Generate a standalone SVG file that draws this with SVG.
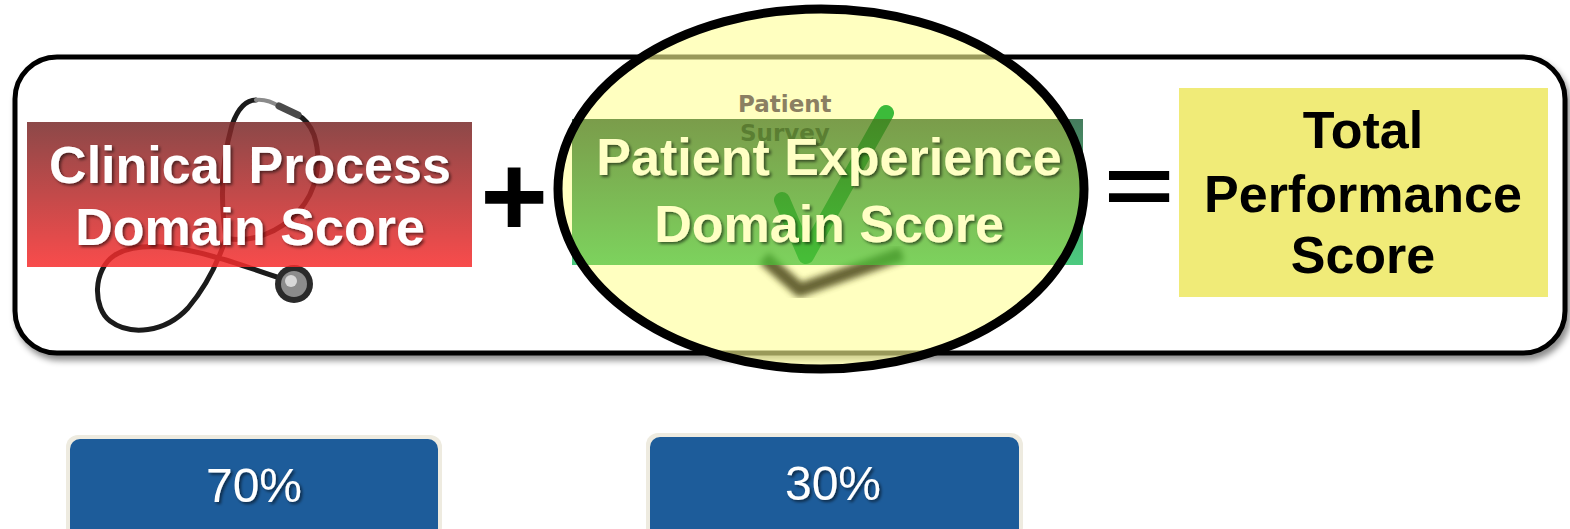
<svg xmlns="http://www.w3.org/2000/svg" width="1570" height="529" viewBox="0 0 1570 529">
  <defs>
    <style>
      .title { font-family: "Liberation Sans", Arial, sans-serif; font-weight: bold; font-size: 52px; text-anchor: middle; }
      .pct { font-family: "Liberation Sans", Arial, sans-serif; font-size: 48px; fill: #ffffff; text-anchor: middle; }
      .op { font-family: "Liberation Sans", Arial, sans-serif; font-weight: bold; fill: #000000; text-anchor: middle; }
      .survey { font-family: "DejaVu Sans", sans-serif; font-weight: bold; font-size: 23px; fill: #8b7f62; }
      .tube { fill: none; stroke: #1b1b1b; stroke-width: 5; stroke-linecap: round; stroke-linejoin: round; }
    </style>
    <linearGradient id="redGrad" x1="0" y1="0" x2="0" y2="1">
      <stop offset="0" stop-color="#782828"/>
      <stop offset="1" stop-color="#f72c2c"/>
    </linearGradient>
    <linearGradient id="tealGrad" x1="0" y1="0" x2="0" y2="1">
      <stop offset="0" stop-color="#467c5e"/>
      <stop offset="1" stop-color="#4ccb80"/>
    </linearGradient>
    <linearGradient id="greenGrad" x1="0" y1="0" x2="0" y2="1">
      <stop offset="0" stop-color="#47761d"/>
      <stop offset="1" stop-color="#4ac137"/>
    </linearGradient>
    <filter id="boxShadow" x="-5%" y="-10%" width="110%" height="125%">
      <feDropShadow dx="3" dy="5" stdDeviation="3" flood-color="#000000" flood-opacity="0.45"/>
    </filter>
    <filter id="textShadow" x="-5%" y="-20%" width="110%" height="140%">
      <feDropShadow dx="2" dy="2" stdDeviation="1.5" flood-color="#000000" flood-opacity="0.55"/>
    </filter>
    <filter id="soft" x="-20%" y="-20%" width="140%" height="140%">
      <feGaussianBlur stdDeviation="3"/>
    </filter>
    <clipPath id="ovalClip">
      <ellipse cx="821" cy="189" rx="263" ry="180"/>
    </clipPath>
    <mask id="outsideOval">
      <rect x="0" y="0" width="1570" height="529" fill="#ffffff"/>
      <ellipse cx="821" cy="189" rx="263" ry="180" fill="#000000"/>
    </mask>
  </defs>

  <rect width="1570" height="529" fill="#ffffff"/>

  <!-- outer frame holding the equation -->
  <g id="frame">
    <rect x="15" y="57" width="1550" height="296" rx="42" ry="42" fill="#ffffff" stroke="#000000" stroke-width="5" filter="url(#boxShadow)"/>
  </g>

  <!-- clinical process term -->
  <g id="clinical">
    <g id="stethoscope">
      <path class="tube" d="M280,278 C260,272 235,262 215,257 C185,248 140,240 115,255 C92,270 93,308 110,321 C130,336 165,333 188,308 C205,288 218,262 226,238"/>
      <path class="tube" d="M226,238 C220,200 222,160 232,125 C238,108 246,100 256,100"/>
      <path class="tube" d="M226,238 C250,244 280,232 298,212 C318,190 322,160 314,135 C310,124 304,118 296,114"/>
      <path d="M256,100 C266,99 274,103 280,107" fill="none" stroke="#8a8a8a" stroke-width="4" stroke-linecap="round"/>
      <path d="M279,106 L298,115" fill="none" stroke="#4a4a4a" stroke-width="7" stroke-linecap="round"/>
      <circle cx="294" cy="284" r="19" fill="#2a2a2a"/>
      <circle cx="294" cy="284" r="13" fill="#8c8c8c"/>
      <circle cx="291" cy="281" r="6" fill="#d8d8d8"/>
    </g>
    <rect x="27" y="122" width="445" height="145" fill="url(#redGrad)" opacity="0.85"/>
    <g filter="url(#textShadow)">
      <text class="title" x="250" y="183" fill="#ffffff">Clinical Process</text>
      <text class="title" x="250" y="245" fill="#ffffff">Domain Score</text>
    </g>
  </g>

  <!-- plus sign -->
  <g id="plus">
    <text class="op" x="514" y="236" font-size="116">+</text>
  </g>

  <!-- patient experience term, highlighted by the oval -->
  <g id="experience">
    <rect x="572" y="119" width="511" height="146" fill="url(#tealGrad)" mask="url(#outsideOval)"/>
    <ellipse cx="821" cy="189" rx="263" ry="180" fill="#ffff96" fill-opacity="0.6"/>
    <g id="survey-icon" clip-path="url(#ovalClip)">
      <text class="survey" x="738" y="112">Patient</text>
      <text class="survey" x="740" y="141">Survey</text>
      <polyline points="764,258 800,290 902,254" fill="none" stroke="#4e4a1c" stroke-width="14" stroke-linejoin="round" opacity="0.85" filter="url(#soft)"/>
      <polyline points="782,200 806,256 886,113" fill="none" stroke="#3cbb3a" stroke-width="16" stroke-linecap="round" stroke-linejoin="round"/>
      <rect x="572" y="119" width="511" height="146" fill="url(#greenGrad)" opacity="0.72"/>
    </g>
    <ellipse cx="821" cy="189" rx="263" ry="180" fill="none" stroke="#000000" stroke-width="9"/>
    <g filter="url(#textShadow)">
      <text class="title" x="829" y="175" fill="#ffffc4">Patient Experience</text>
      <text class="title" x="829" y="242" fill="#ffffc4">Domain Score</text>
    </g>
  </g>

  <!-- equals sign, vertically condensed -->
  <g id="equals">
    <text class="op" font-size="120" transform="translate(1139,186) scale(1,0.68) translate(0,41)">=</text>
  </g>

  <!-- total performance result -->
  <g id="total">
    <rect x="1179" y="88" width="369" height="209" fill="#f0eb78"/>
    <text class="title" x="1363" y="148" fill="#000000">Total</text>
    <text class="title" x="1363" y="212" fill="#000000">Performance</text>
    <text class="title" x="1363" y="273" fill="#000000">Score</text>
  </g>

  <!-- weights -->
  <g id="weight-clinical">
    <rect x="66" y="435" width="376" height="104" rx="12" fill="#eeebe0"/>
    <rect x="70" y="439" width="368" height="100" rx="10" fill="#1d5c9a"/>
    <text class="pct" x="254" y="502" filter="url(#textShadow)">70%</text>
  </g>
  <g id="weight-experience">
    <rect x="646" y="433" width="377" height="106" rx="12" fill="#eeebe0"/>
    <rect x="650" y="437" width="369" height="102" rx="10" fill="#1d5c9a"/>
    <text class="pct" x="833" y="500" filter="url(#textShadow)">30%</text>
  </g>

  <g id="connectors"/>
</svg>
